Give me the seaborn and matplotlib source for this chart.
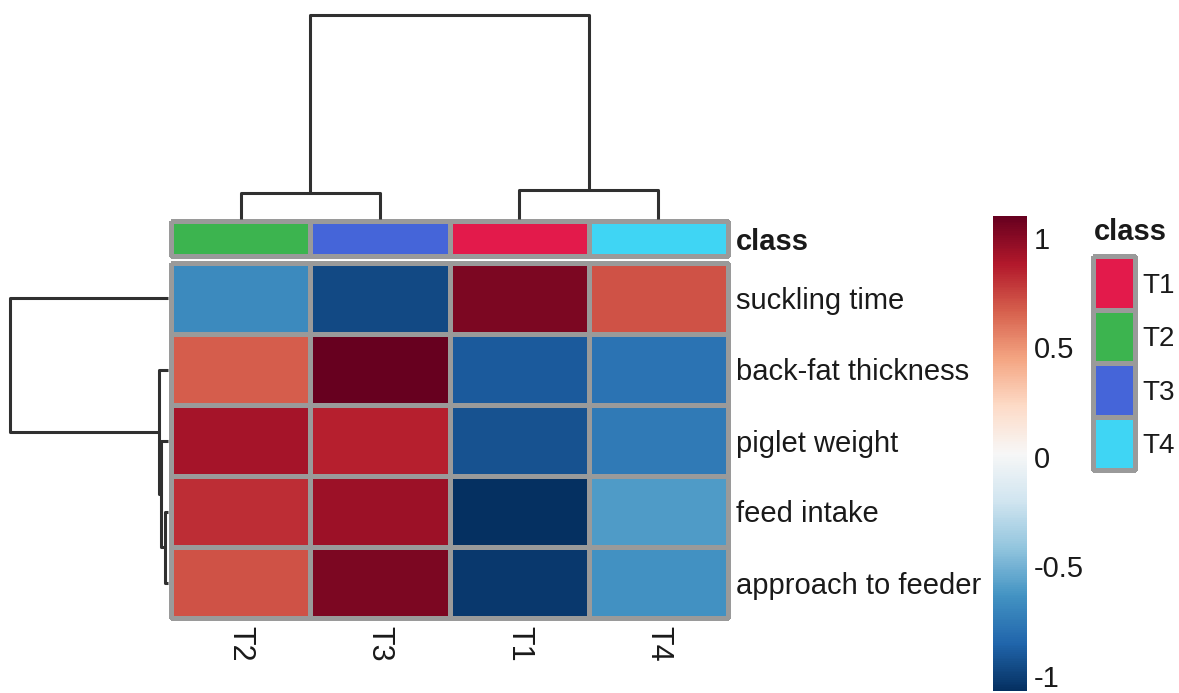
import numpy as np
import pandas as pd
import matplotlib
matplotlib.use("Agg")
import matplotlib.pyplot as plt
import seaborn as sns
from matplotlib.colors import ListedColormap

# ---- data (display order) ----
samples = ["T2", "T3", "T1", "T4"]
traits = ["suckling time", "back-fat thickness", "piglet weight", "feed intake", "approach to feeder"]
suckling_time = [-0.68, -0.96, 1.04, 0.71]
back_fat_thickness = [0.67, 1.10, -0.90, -0.79]
piglet_weight = [0.92, 0.86, -0.93, -0.75]
feed_intake = [0.82, 0.94, -1.07, -0.60]
approach_to_feeder = [0.71, 1.04, -1.03, -0.64]

class_labels = ["T1", "T2", "T3", "T4"]
class_colors = ["#E31A4B", "#3CB44F", "#4565D9", "#3FD5F4"]
sample_class = ["T2", "T3", "T1", "T4"]

# linkage (child a, child b, merge height); leaves indexed in display order
col_links = [(0, 1, 0.9), (2, 3, 1.0), (4, 5, 7.0)]
row_links = [(3, 4, 0.3), (2, 5, 0.7), (1, 6, 0.9), (0, 7, 15.8)]

# ---- figure ----
W, H = 1179, 693
fig = plt.figure(figsize=(W / 100, H / 100), dpi=100)
sns.set_style("white")
plt.rcParams["font.family"] = ["Liberation Sans", "DejaVu Sans"]
TXT = "#1a1a1a"
GRID = "#9a9a9a"
FS = 21


def add_ax(x0, y0, x1, y1):
    return fig.add_axes([x0 / W, 1 - y1 / H, (x1 - x0) / W, (y1 - y0) / H])


df = pd.DataFrame([suckling_time, back_fat_thickness, piglet_weight, feed_intake, approach_to_feeder],
                  index=traits, columns=samples)
vmin, vmax = df.values.min(), df.values.max()

ax = add_ax(171, 263, 728, 618)
cax = add_ax(993, 216, 1027, 691)
sns.heatmap(df, ax=ax, cmap="RdBu_r", vmin=vmin, vmax=vmax, linewidths=2.2, linecolor=GRID,
            cbar_ax=cax, cbar_kws={"ticks": [-1, -0.5, 0, 0.5, 1]})
ax.collections[0].set_clip_on(False)
ax.yaxis.tick_right()
ax.set_yticklabels(traits, rotation=0, fontsize=FS, color=TXT)
ax.set_xticklabels(samples, rotation=270, fontsize=22, color=TXT)
ax.tick_params(axis="both", length=0)
ax.tick_params(axis="y", pad=6)
ax.tick_params(axis="x", pad=6)
ax.set_xlabel("")
ax.set_ylabel("")

cbar = ax.collections[0].colorbar
cbar.outline.set_visible(False)
cbar.set_ticklabels(["-1", "-0.5", "0", "0.5", "1"])
cax.tick_params(length=0, labelsize=FS, pad=5, labelcolor=TXT)

# class annotation bar
codes = np.array([[class_labels.index(c) for c in sample_class]])
bax = add_ax(171, 221, 728, 256)
sns.heatmap(codes, ax=bax, cmap=ListedColormap(class_colors), vmin=-0.5, vmax=3.5,
            linewidths=2.2, linecolor=GRID, cbar=False, xticklabels=False, yticklabels=["class"])
bax.collections[0].set_clip_on(False)
bax.yaxis.tick_right()
bax.set_yticklabels(["class"], rotation=0, fontsize=FS, color=TXT, fontweight="bold")
bax.tick_params(axis="y", length=0, pad=6)

# legend for class
lax = add_ax(1093, 256, 1135, 470)
sns.heatmap(np.arange(len(class_labels)).reshape(-1, 1), ax=lax, cmap=ListedColormap(class_colors),
            vmin=-0.5, vmax=3.5, linewidths=2.2, linecolor=GRID, cbar=False,
            xticklabels=False, yticklabels=class_labels)
lax.collections[0].set_clip_on(False)
lax.yaxis.tick_right()
lax.set_yticklabels(class_labels, rotation=0, fontsize=20, color=TXT)
lax.tick_params(axis="y", length=0, pad=5)
fig.text(1094 / W, 1 - 232 / H, "class", fontsize=FS, fontweight="bold", color=TXT,
         ha="left", va="center")


def draw_dendro(a, links, n, orient):
    pos = {i: i + 0.5 for i in range(n)}
    hgt = {i: 0.0 for i in range(n)}
    for k, (p, q, h) in enumerate(links):
        xs = [pos[p], pos[p], pos[q], pos[q]]
        ys = [hgt[p], h, h, hgt[q]]
        if orient == "top":
            a.plot(xs, ys, color="#303030", lw=2.2, clip_on=False, solid_capstyle="butt")
        else:
            a.plot(ys, xs, color="#303030", lw=2.2, clip_on=False, solid_capstyle="butt")
        pos[n + k] = (pos[p] + pos[q]) / 2
        hgt[n + k] = h
    a.axis("off")


cdax = add_ax(171, 15, 728, 219)
draw_dendro(cdax, col_links, len(samples), "top")
cdax.set_xlim(0, len(samples))
cdax.set_ylim(0, max(l[2] for l in col_links))

rdax = add_ax(10, 263, 168, 618)
draw_dendro(rdax, row_links, len(traits), "left")
rdax.set_xlim(max(l[2] for l in row_links), 0)
rdax.set_ylim(len(traits), 0)

fig.savefig("out.png", dpi=100)
